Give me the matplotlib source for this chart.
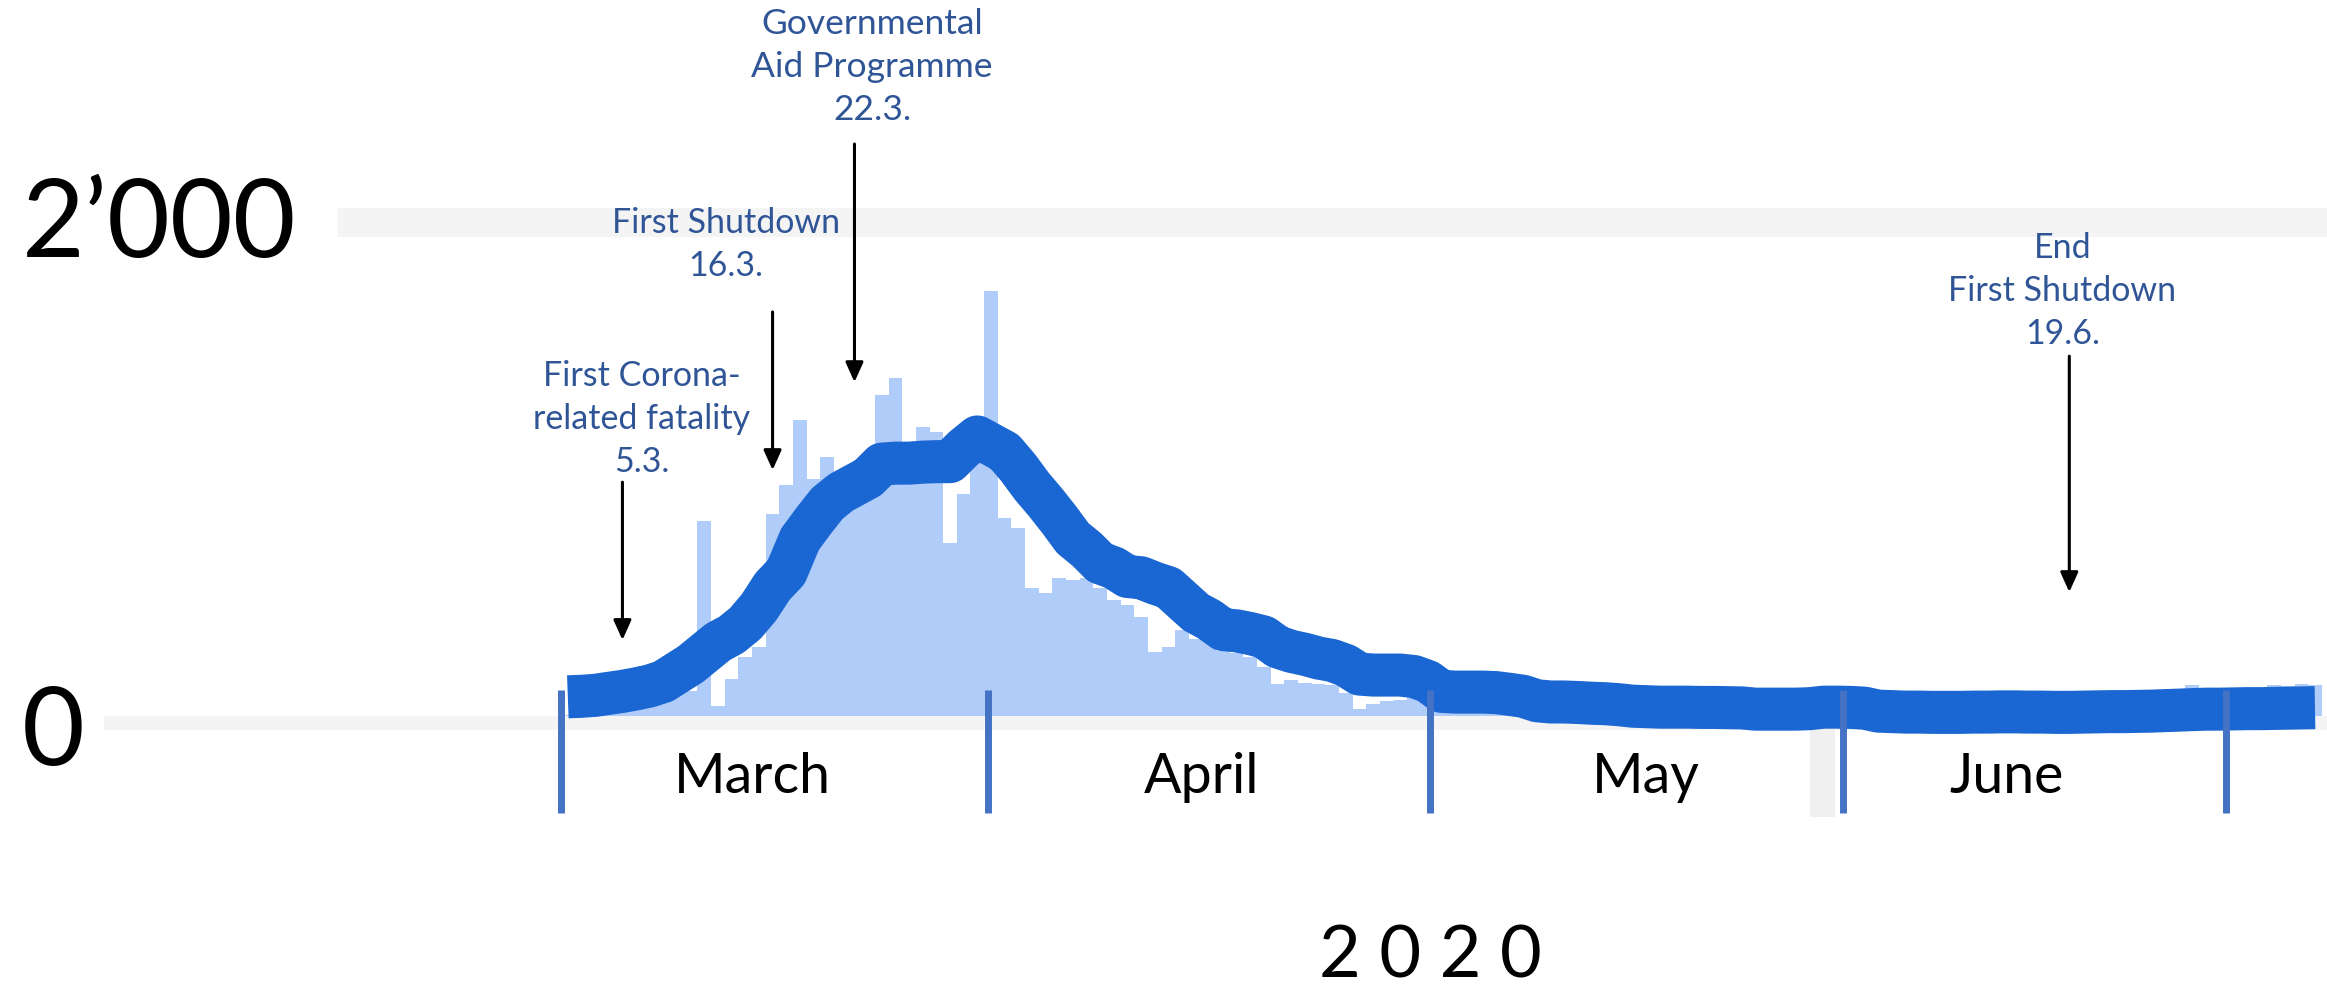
import numpy as np
import pandas as pd
import matplotlib
matplotlib.use('Agg')
import matplotlib.pyplot as plt
from matplotlib.patches import Rectangle

plt.rcParams['font.family'] = ['Lato', 'DejaVu Sans']

# daily new cases from 1 March 2020, one value per day
start = pd.Timestamp('2020-03-01')
cases = [5, 10, 10, 20, 25, 40, 50, 70, 90, 100, 790, 40, 150, 240, 280, 820,
         935, 1200, 960, 1050, 950, 980, 1000, 1300, 1370, 970, 1170, 1150, 700,
         900, 1100,
         1720, 800, 760, 520, 500, 560, 550, 560, 520, 470, 450, 400, 260, 280,
         350, 310, 300, 265, 255, 240, 200, 130, 145, 135, 130, 125, 95, 30, 50, 60,
         65, 80, 65, 120, 90, 55, 80, 95, 70, 65, 55, 45, 30, 40, 45, 40, 40, 35,
         30, 20, 20, 30, 30, 20, 20, 20, 10, 15, 20, 15, 20,
         25, 20, 35, 30, 25, 20, 15, 10, 20, 25, 30, 25, 15, 15, 20, 30, 35, 30,
         20, 15, 25, 35, 45, 40, 30, 25, 45, 125, 115, 55,
         60, 90, 80, 125, 120, 130, 125]

# 7-day average as drawn
avg7 = [78, 80, 84, 92, 100, 110, 122, 140, 175, 210, 255, 300, 330, 375, 440,
        525, 583, 715, 790, 860, 905, 935, 965, 1020, 1024, 1024, 1028, 1030,
        1030, 1085, 1130,
        1100, 1070, 1005, 930, 865, 795, 720, 675, 620, 600, 565, 560, 538, 520,
        470, 420, 390, 350, 345, 334, 320, 280, 262, 250, 235, 225, 205, 170, 166,
        166,
        166, 160, 140, 100, 97, 97, 97, 95, 88, 80, 62, 57, 57, 55, 52, 50, 46, 40,
        38, 36, 36, 36, 35, 35, 34, 33, 28, 28, 28, 28, 30,
        36, 36, 35, 32, 20, 18, 16, 16, 15, 15, 15, 16, 16, 17, 17, 16, 16, 15, 15,
        16, 17, 18, 18, 19, 20, 22, 24, 26, 28, 28,
        29, 30, 30, 31, 32, 33, 34]

months = ['March', 'April', 'May', 'June']
month_marks = [0, 31.3, 63.7, 93.9, 122.0]   # separators as drawn (days from 1.3.)

y_ticks = [0, 2000]
y_labels = ['0', '2\u2019000']

events = ['2020-03-05', '2020-03-16', '2020-03-22', '2020-06-19']
event_texts = ['First Corona-\nrelated fatality\n5.3.',
               'First Shutdown\n16.3.',
               'Governmental\nAid Programme\n22.3.',
               'End\nFirst Shutdown\n19.6.']

blue_dark = '#1A66D2'
blue_bar = '#B0CCF8'
blue_txt = '#2F5597'
blue_tick = '#4472C4'
grid_col = '#F4F4F4'

fig = plt.figure(figsize=(23.27, 9.9), dpi=100)
ax = fig.add_axes([0, 0, 1, 1])
ax.set_xlim(-41.1, 129.38)
ax.set_ylim(-1109, 2899)
ax.axis('off')

x = np.arange(len(cases)) + 0.5

# grid bands
ax.hlines(y_ticks[1], -16.4, 129.38, color=grid_col, lw=21, zorder=0)
ax.hlines(y_ticks[0] - 28, -33.5, 129.38, color=grid_col, lw=10, zorder=0)
ax.add_patch(Rectangle((91.5, -409), 1.8, 409, color='#F0F0F0', lw=0, zorder=0.5))

ax.bar(x, cases, width=1.0, color=blue_bar, linewidth=0, zorder=2)
ax.plot(x, avg7, color=blue_dark, lw=31, solid_capstyle='butt',
        solid_joinstyle='round', zorder=3)

# month separators and labels
ax.vlines(month_marks, -393, 105, color=blue_tick, lw=5, zorder=4)
label_pos = [14.0, 46.9, 79.5, 105.9]
for pos, m in zip(label_pos, months):
    ax.text(pos, -312, m, ha='center', va='baseline', fontsize=40, color='black')

ax.text(63.7, -1060, '2 0 2 0', ha='center', va='baseline', fontsize=52)

# y labels
ax.text(-39.5, 1858, y_labels[1], ha='left', va='baseline', fontsize=78)
ax.text(-39.5, -200, y_labels[0], ha='left', va='baseline', fontsize=78)

# event annotations
text_pos = [(5.9, 1441), (12.1, 2061), (22.8, 2866), (110.0, 1960)]
text_size = [24.5, 24.5, 25.5, 24.5]
arrow_span = [(947, 308), (1636, 996), (2316, 1352), (1457, 502)]
for ev, txt, (tx, ty), fs, (a0, a1) in zip(events, event_texts, text_pos,
                                           text_size, arrow_span):
    xd = (pd.Timestamp(ev) - start).days + 0.5
    ax.text(tx, ty, txt, ha='center', va='top', fontsize=fs, color=blue_txt,
            linespacing=1.42)
    ax.annotate('', xy=(xd, a1), xytext=(xd, a0),
                arrowprops=dict(arrowstyle='-|>,head_length=0.8,head_width=0.36',
                                color='black', lw=2.2, shrinkA=0, shrinkB=0,
                                mutation_scale=15),
                zorder=5)

fig.savefig('out.png', dpi=100)
